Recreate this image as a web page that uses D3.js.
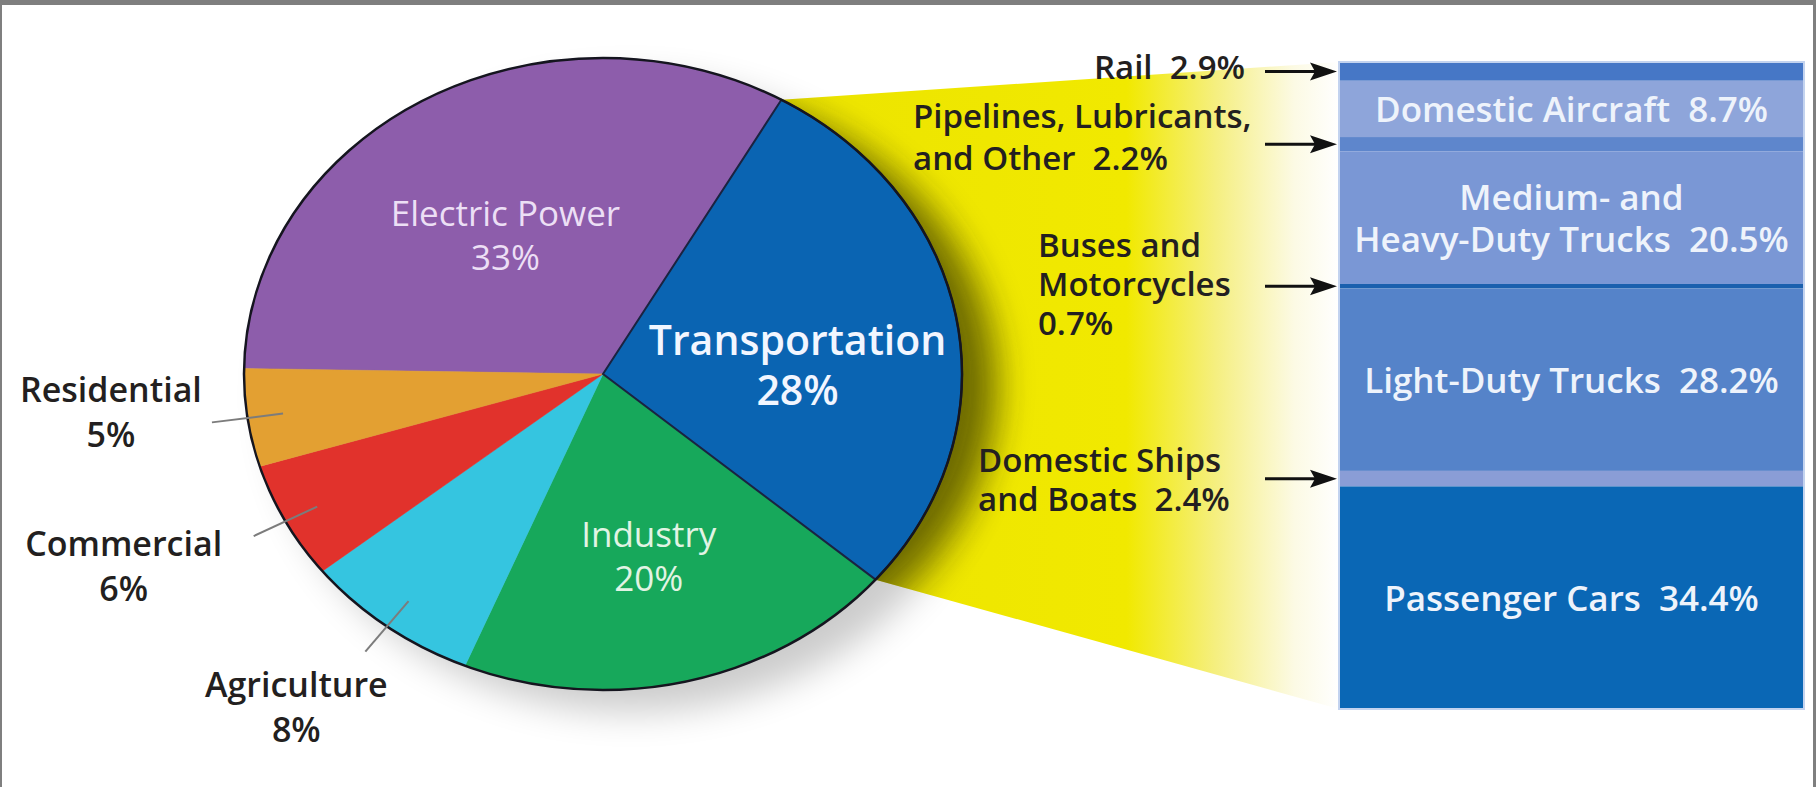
<!DOCTYPE html>
<html>
<head>
<meta charset="utf-8">
<script src="https://cdn.jsdelivr.net/npm/d3@7"></script>
<style>
html, body { margin: 0; padding: 0; background: #fff; }
svg { display: block; font-family: "Open Sans", "Noto Sans", sans-serif; }
text { white-space: pre; }
</style>
</head>
<body>
<svg id="chart" width="1816" height="787"></svg>
<script>
// sectors of the pie, clockwise from the left edge
var sectors = ["Electric Power", "Transportation", "Industry", "Agriculture", "Commercial", "Residential"];
var sectorShares = [33, 28, 20, 8, 6, 5];

// transportation breakdown, top to bottom of the stack
var modes = ["Rail", "Domestic Aircraft", "Pipelines, Lubricants, and Other", "Medium- and Heavy-Duty Trucks",
             "Buses and Motorcycles", "Light-Duty Trucks", "Domestic Ships and Boats", "Passenger Cars"];
var modeShares = [2.9, 8.7, 2.2, 20.5, 0.7, 28.2, 2.4, 34.4];
// how each mode label is broken in lines (percentage added to last line)
var modeLines = [["Rail"], ["Domestic Aircraft"], ["Pipelines, Lubricants,", "and Other"], ["Medium- and", "Heavy-Duty Trucks"],
                 ["Buses and", "Motorcycles", ""], ["Light-Duty Trucks"], ["Domestic Ships", "and Boats"], ["Passenger Cars"]];

var sectorColors = ["#8d5dab", "#0a64b2", "#17a85b", "#35c5e0", "#e1322c", "#e3a032"];
var sectorTextColors = ["#ecdff5", "#f2f6ff", "#e2f4e4"];
var modeColors = ["#4677c6", "#8ea5da", "#5e86cc", "#7a97d5", "#1a60ae", "#5583c9", "#8a9dd6", "#0a67b5"];

var svg = d3.select("#chart");
var cx = 603, cy = 374, rx = 359, ry = 316;

// frame
svg.append("rect").attr("x", 0).attr("y", 0).attr("width", 1816).attr("height", 5).style("fill", "#7f7f7f");
svg.append("rect").attr("x", 0).attr("y", 0).attr("width", 2).attr("height", 787).style("fill", "#7f7f7f");
svg.append("rect").attr("x", 1813).attr("y", 0).attr("width", 3).attr("height", 787).style("fill", "#7f7f7f");

var defs = svg.append("defs");
var grad = defs.append("linearGradient").attr("id", "funnel")
	.attr("gradientUnits", "userSpaceOnUse")
	.attr("x1", 780).attr("x2", 1339).attr("y1", 0).attr("y2", 0);
grad.append("stop").attr("offset", 0).attr("stop-color", "#ece400");
grad.append("stop").attr("offset", 0.62).attr("stop-color", "#f1e900");
grad.append("stop").attr("offset", 0.78).attr("stop-color", "#f5ef80");
grad.append("stop").attr("offset", 0.92).attr("stop-color", "#fcfae4");
grad.append("stop").attr("offset", 1).attr("stop-color", "#ffffff");

defs.append("filter").attr("id", "blur").attr("x", "-30%").attr("y", "-30%").attr("width", "160%").attr("height", "160%")
	.append("feGaussianBlur").attr("stdDeviation", 18);

var pie = d3.pie().sort(null).value(function(d){ return d; })
	.startAngle(-89 * Math.PI / 180).endAngle(271 * Math.PI / 180);
var slices = pie(sectorShares);
var arc = d3.arc().innerRadius(0).outerRadius(rx);
var k = ry / rx;

function onEllipse(a, r){
	return [cx + r * rx * Math.sin(a), cy - r * ry * Math.cos(a)];
}

// stacked bar scale
var y = d3.scaleLinear().domain([0, 100]).range([62, 709]);
var barX = 1339, barW = 465;
var cum = [];
modeShares.reduce(function(s, v, i){ cum[i] = s; return s + v; }, 0);

// yellow funnel from the transportation slice to the stack
var tr = slices[1];
var p1 = onEllipse(tr.startAngle, 1), p2 = onEllipse(tr.endAngle, 1);
var funnelPath = "M" + cx + "," + cy + "L" + p1 + "L" + barX + "," + y(0) + "L" + barX + "," + y(100) + "L" + p2 + "Z";
defs.append("clipPath").attr("id", "funnelClip").append("path").attr("d", funnelPath);
svg.append("path").attr("d", funnelPath).style("fill", "url(#funnel)");

// pie shadow
svg.append("ellipse").attr("cx", cx + 28).attr("cy", cy + 22).attr("rx", rx).attr("ry", ry)
	.attr("filter", "url(#blur)").style("fill", "#000").style("opacity", 0.2);
svg.append("g").attr("clip-path", "url(#funnelClip)")
	.append("ellipse").attr("cx", cx + 34).attr("cy", cy + 10).attr("rx", rx).attr("ry", ry - 20)
	.attr("filter", "url(#blur)").style("fill", "#2a2a00").style("opacity", 0.55);

// pie
var g = svg.append("g").attr("transform", "translate(" + cx + "," + cy + ") scale(1," + k + ")");
g.selectAll("path.slice").data(slices).enter().append("path")
	.attr("class", "slice")
	.attr("d", arc)
	.attr("vector-effect", "non-scaling-stroke")
	.style("fill", function(d, i){ return sectorColors[i]; })
	.style("stroke", function(d, i){ return sectorColors[i]; })
	.style("stroke-width", 0.5);
g.append("path").attr("d", arc(tr))
	.attr("vector-effect", "non-scaling-stroke")
	.style("fill", "none").style("stroke", "#1b2340").style("stroke-width", 2);
g.append("circle").attr("r", rx).attr("vector-effect", "non-scaling-stroke")
	.style("fill", "none").style("stroke", "#15151f").style("stroke-width", 2.5);

// labels inside the big slices
var innerNudge = [12, 20, 12];
slices.slice(0, 3).forEach(function(d, i){
	var m = (d.startAngle + d.endAngle) / 2;
	var p = onEllipse(m, 0.55);
	var big = i == 1;
	var t = svg.append("text")
		.attr("text-anchor", "middle")
		.style("fill", sectorTextColors[i])
		.style("font-size", big ? "41px" : "35px")
		.style("font-weight", big ? 600 : 500);
	var lh = big ? 50 : 44;
	t.append("tspan").attr("x", p[0]).attr("y", p[1] + innerNudge[i] - lh / 2).attr("dominant-baseline", "central").text(sectors[i]);
	t.append("tspan").attr("x", p[0]).attr("y", p[1] + innerNudge[i] + lh / 2).attr("dominant-baseline", "central").text(sectorShares[i] + "%");
});

// labels with leader lines for the small slices (Agriculture, Commercial, Residential)
var outerOffsets = [[-69, 54], [-130, 29], [-101, -11]];
slices.slice(3).forEach(function(d, j){
	var i = j + 3;
	var m = (d.startAngle + d.endAngle) / 2;
	var a = onEllipse(m, 0.9), b = onEllipse(m, 1.1);
	svg.append("line").attr("x1", a[0]).attr("y1", a[1]).attr("x2", b[0]).attr("y2", b[1])
		.style("stroke", "#7c7c7c").style("stroke-width", 2);
	var lx = b[0] + outerOffsets[j][0], ly = b[1] + outerOffsets[j][1];
	var t = svg.append("text").attr("text-anchor", "middle").style("fill", "#231f20")
		.style("font-size", "34px").style("font-weight", 600);
	t.append("tspan").attr("x", lx).attr("y", ly - 22).attr("dominant-baseline", "central").text(sectors[i]);
	t.append("tspan").attr("x", lx).attr("y", ly + 23).attr("dominant-baseline", "central").text(sectorShares[i] + "%");
});

// stacked bar
var bar = svg.append("g");
bar.selectAll("rect").data(modeShares).enter().append("rect")
	.attr("x", barX)
	.attr("y", function(d, i){ return y(cum[i]); })
	.attr("width", barW)
	.attr("height", function(d){ return y(d) - y(0); })
	.style("fill", function(d, i){ return modeColors[i]; });
bar.append("rect").attr("x", barX).attr("y", y(0)).attr("width", barW).attr("height", y(100) - y(0))
	.style("fill", "none").style("stroke", "#c3d3ef").style("stroke-width", 2);

// labels inside the bar for the large modes, arrows for the small ones
var callout = {0: {x: 1245, anchor: "end", first: -5, lh: 0},
               2: {x: 913, anchor: "start", first: -29, lh: 42},
               4: {x: 1038, anchor: "start", first: -42, lh: 39},
               6: {x: 978, anchor: "start", first: -19, lh: 39}};
modeShares.forEach(function(v, i){
	var lines = modeLines[i].slice();
	var last = lines.length - 1;
	lines[last] = lines[last] + (lines[last] ? "  " : "") + v + "%";
	var mid = y(cum[i] + v / 2);
	if (callout[i]) {
		var c = callout[i];
		var t = svg.append("text").attr("text-anchor", c.anchor).style("fill", "#231f20")
			.style("font-size", "33px").style("font-weight", 600);
		lines.forEach(function(s, n){
			t.append("tspan").attr("x", c.x).attr("y", mid + c.first + n * c.lh).attr("dominant-baseline", "central").text(s);
		});
		svg.append("line").attr("x1", 1265).attr("x2", 1318).attr("y1", mid).attr("y2", mid)
			.style("stroke", "#111").style("stroke-width", 3);
		svg.append("path")
			.attr("d", "M1337," + mid + "L1310," + (mid - 9) + "L1315," + mid + "L1310," + (mid + 9) + "Z")
			.style("fill", "#111");
	} else {
		var t2 = svg.append("text").attr("text-anchor", "middle").style("fill", "#eef3fb")
			.style("font-size", "35px").style("font-weight", 600);
		var lh = 42;
		lines.forEach(function(s, n){
			t2.append("tspan").attr("x", barX + barW / 2)
				.attr("y", mid + (n - (lines.length - 1) / 2) * lh)
				.attr("dominant-baseline", "central").text(s);
		});
	}
});
</script>
</body>
</html>
